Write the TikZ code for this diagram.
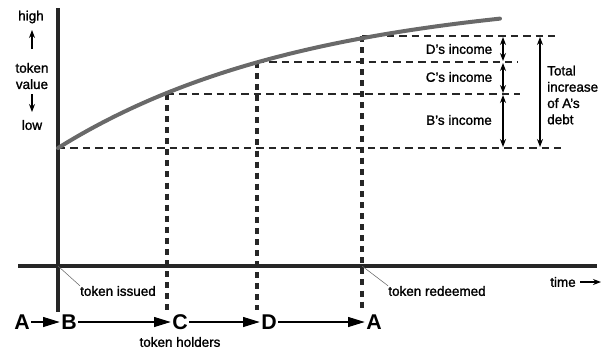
\documentclass[tikz,border=0pt]{standalone}
\usepackage{fontspec}
\setmainfont[BoldFont=Liberation Sans,BoldFeatures={FakeBold=1.4}]{Liberation Sans}
\usetikzlibrary{positioning}
\usetikzlibrary{calc}
\usetikzlibrary{arrows.meta}
\definecolor{curvegrey}{RGB}{105,105,105}
\newfontfamily\holderfont{Liberation Sans Bold}
\tikzset{
  axis/.style={line width=2.3pt,black!85},
  guide/.style={dashed,line width=0.9pt,dash pattern=on 5.5pt off 3.8pt,black!85},
  holding/.style={line width=2.4pt,dash pattern=on 4.5pt off 3.8pt,black!85},
  leader/.style={line width=0.4pt,black!60},
  income/.style={line width=0.8pt,{Stealth[length=6pt,width=4.5pt]}-{Stealth[length=6pt,width=4.5pt]}},
  holder/.style={font=\holderfont\fontsize{16}{18}\selectfont,inner sep=1pt},
  pass/.style={line width=0.8pt,-{Triangle[length=12.5pt,width=7.5pt]}},
  txt/.style={font=\fontsize{10.1}{12.2}\selectfont\bfseries,inner sep=0pt}
}
\begin{document}
\begin{tikzpicture}[x=0.75pt,y=-0.75pt]
  \useasboundingbox (0,0) rectangle (610,351);

  % axes
  \coordinate (origin) at (58,266);
  \draw[axis] (58,8) -- (58,312);
  \draw[axis] (18,266) -- (597,266);

  % value of the token
  \coordinate (t0) at (58,148);
  \coordinate (tc) at (167,94);
  \coordinate (td) at (257,62);
  \coordinate (ta) at (362,36);
  \draw[guide] (t0) -- (565,148);
  \draw[guide] (tc) -- (520,94);
  \draw[guide] (td) -- (518,62);
  \draw[guide] (ta) -- (558,36);
  \draw[holding] (tc) -- (167,310);
  \draw[holding] (td) -- (257,310);
  \draw[holding] (ta) -- (362,310);
  \draw[line width=3pt,curvegrey,line cap=round]
    plot[domain=58:500,samples=60,smooth] (\x,{148-156*(1-exp(-(\x-58)/250))});

  % incomes
  \draw[income] (503,37) -- (503,61);
  \draw[income] (503,63) -- (503,93);
  \draw[income] (503,95) -- (503,147);
  \draw[income] (540,37) -- (540,147);
  \node[txt] (dinc) at (459,49)  {D's income};
  \node[txt] (cinc) at (459,77)  {C's income};
  \node[txt] (binc) at (459,120) {B's income};
  \node[txt,anchor=west,align=left] (total) at (547,95) {Total\\increase\\of A's\\debt};

  % value scale
  \node[txt] (high) at (31,17) {high};
  \node[txt,align=center] (value) at (32,76) {token\\value};
  \node[txt] (low) at (32,125) {low};
  \draw[line width=0.8pt,-{Stealth[length=6pt,width=4.5pt]}] (32,49) -- (32,30);
  \draw[line width=0.8pt,-{Stealth[length=6pt,width=4.5pt]}] (32,94) -- (32,112);

  % events on the time axis
  \node[txt] (issued) at (118,291) {token issued};
  \node[txt] (redeemed) at (437,291) {token redeemed};
  \draw[leader] (origin) -- (issued.north west);
  \draw[leader] (362,266) -- (redeemed.north west);
  \node[txt] (time) at (563,282) {time};
  \coordinate (timeend) at (601,282);
  \draw[line width=0.8pt,-{Stealth[length=6pt,width=4.5pt]}] (time.east) ++(3pt,0) -- (timeend);

  % token holders
  \node[holder] (a1) at (22,322) {A};
  \node[holder] (b)  at (69,322) {B};
  \node[holder] (c)  at (180,322) {C};
  \node[holder] (d)  at (269,322) {D};
  \node[holder] (a2) at (374,322) {A};
  \draw[pass] (a1) -- (b);
  \draw[pass] (b) -- (c);
  \draw[pass] (c) -- (d);
  \draw[pass] (d) -- (a2);
  \node[txt] (holders) at (180,342) {token holders};
\end{tikzpicture}
\end{document}
